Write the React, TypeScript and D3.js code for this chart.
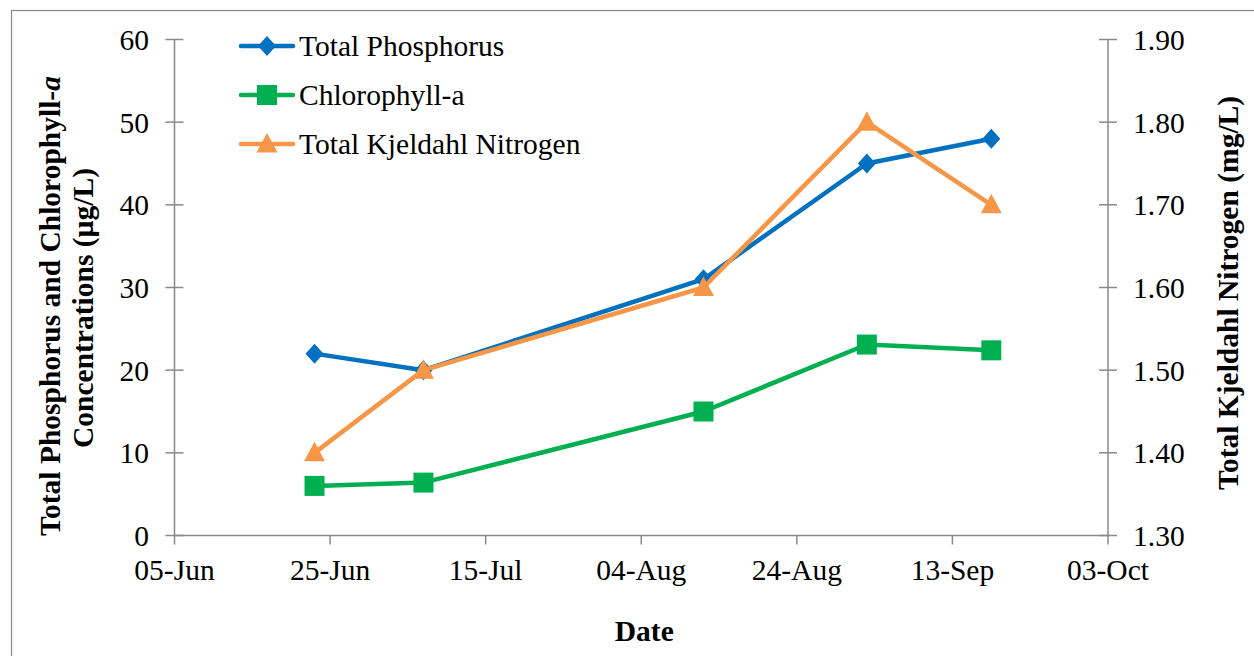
import React from "react";
import * as d3 from "d3";

const sampleDates = ["2013-06-23", "2013-07-07", "2013-08-12", "2013-09-02", "2013-09-18"];
const totalPhosphorus = [22, 20, 31, 45, 48];
const chlorophyllA = [6.0, 6.4, 15.0, 23.1, 22.4];
const totalKjeldahlNitrogen = [1.4, 1.5, 1.6, 1.8, 1.7];
const seriesNames = ["Total Phosphorus", "Chlorophyll-a", "Total Kjeldahl Nitrogen"];
const leftTicks = [0, 10, 20, 30, 40, 50, 60];
const rightTicks = [1.3, 1.4, 1.5, 1.6, 1.7, 1.8, 1.9];
const xStart = "2013-06-05";
const xEnd = "2013-10-03";

const W = 1254;
const H = 656;
const FONT = "'Liberation Serif', 'Times New Roman', serif";
const AXIS = "#898989";
const COLORS = ["#0070C0", "#00B050", "#F79646"];
const FS = 29.5;

const parse = (s: string) => new Date(s + "T00:00:00Z");

function Marker({ kind, x, y, color }: { kind: number; x: number; y: number; color: string }) {
  if (kind === 0) {
    return <path d={`M${x},${y - 10}L${x + 9},${y}L${x},${y + 10}L${x - 9},${y}Z`} fill={color} />;
  }
  if (kind === 1) {
    return <rect x={x - 10} y={y - 10} width={20} height={20} fill={color} />;
  }
  return <path d={`M${x},${y - 11}L${x + 10.5},${y + 8.5}L${x - 10.5},${y + 8.5}Z`} fill={color} />;
}

export default function App() {
  const x0 = 174.5;
  const x1 = 1108;
  const yTop = 39.5;
  const yBot = 535.5;

  const x = d3.scaleUtc().domain([parse(xStart), parse(xEnd)]).range([x0, x1]);
  const yL = d3.scaleLinear().domain([0, 60]).range([yBot, yTop]);
  const yR = d3.scaleLinear().domain([1.3, 1.9]).range([yBot, yTop]);

  const xTicks = d3.utcDay.range(parse(xStart), d3.utcDay.offset(parse(xEnd), 1), 20);
  const fmt = d3.utcFormat("%d-%b");

  const dates = sampleDates.map(parse);
  const series = [
    { vals: totalPhosphorus, y: yL },
    { vals: chlorophyllA, y: yL },
    { vals: totalKjeldahlNitrogen, y: yR },
  ];

  const line = (vals: number[], ys: d3.ScaleLinear<number, number>) =>
    d3
      .line<number>()
      .x((_, i) => x(dates[i]))
      .y((v) => ys(v))(vals) || "";

  const legendY = [46, 95, 144];

  return (
    <svg
      width={W}
      height={H}
      style={{ position: "absolute", left: 0, top: 0, display: "block", background: "#fff" }}
      fontFamily={FONT}
    >
      <rect x={11.5} y={10.5} width={W + 10} height={H + 10} fill="#fff" stroke={AXIS} strokeWidth={1.2} />

      {/* left axis */}
      <line x1={x0} x2={x0} y1={yTop} y2={yBot} stroke={AXIS} strokeWidth={1.5} />
      {leftTicks.map((t) => (
        <g key={"l" + t}>
          <line x1={x0 - 9} x2={x0 + 9} y1={yL(t)} y2={yL(t)} stroke={AXIS} strokeWidth={1.5} />
          <text x={149} y={yL(t) + 10.5} fontSize={FS} textAnchor="end" fill="#000">
            {t}
          </text>
        </g>
      ))}

      {/* right axis */}
      <line x1={x1} x2={x1} y1={yTop} y2={yBot} stroke={AXIS} strokeWidth={1.5} />
      {rightTicks.map((t) => (
        <g key={"r" + t}>
          <line x1={x1 - 9} x2={x1 + 9} y1={yR(t)} y2={yR(t)} stroke={AXIS} strokeWidth={1.5} />
          <text x={1133} y={yR(t) + 10.5} fontSize={FS} textAnchor="start" fill="#000">
            {t.toFixed(2)}
          </text>
        </g>
      ))}

      {/* x axis */}
      <line x1={x0} x2={x1} y1={yBot} y2={yBot} stroke={AXIS} strokeWidth={1.5} />
      {xTicks.map((t) => (
        <g key={"x" + t.getTime()}>
          <line x1={x(t)} x2={x(t)} y1={yBot} y2={yBot + 9} stroke={AXIS} strokeWidth={1.5} />
          <text x={x(t)} y={579.5} fontSize={FS} textAnchor="middle" fill="#000">
            {fmt(t)}
          </text>
        </g>
      ))}

      {/* axis titles */}
      <text x={(x0 + x1) / 2 + 3} y={641} fontSize={FS} fontWeight="bold" textAnchor="middle">
        Date
      </text>
      <text transform="translate(60,306) rotate(-90)" fontSize={FS} fontWeight="bold" textAnchor="middle">
        Total Phosphorus and Chlorophyll-<tspan fontStyle="italic">a</tspan>
      </text>
      <text transform="translate(93,308) rotate(-90)" fontSize={FS} fontWeight="bold" textAnchor="middle">
        Concentrations (µg/L)
      </text>
      <text transform="translate(1238,293) rotate(-90)" fontSize={FS} fontWeight="bold" textAnchor="middle">
        Total Kjeldahl Nitrogen (mg/L)
      </text>

      {/* series */}
      {series.map((s, si) => (
        <g key={"s" + si}>
          <path d={line(s.vals, s.y)} fill="none" stroke={COLORS[si]} strokeWidth={4.5} strokeLinejoin="round" strokeLinecap="round" />
          {s.vals.map((v, i) => (
            <Marker key={i} kind={si} x={x(dates[i])} y={s.y(v)} color={COLORS[si]} />
          ))}
        </g>
      ))}

      {/* legend */}
      {seriesNames.map((n, i) => (
        <g key={"lg" + i}>
          <line x1={241} x2={293} y1={legendY[i]} y2={legendY[i]} stroke={COLORS[i]} strokeWidth={4.5} strokeLinecap="round" />
          <Marker kind={i} x={267} y={legendY[i]} color={COLORS[i]} />
          <text x={299} y={legendY[i] + 9.5} fontSize={FS} fill="#000">
            {n}
          </text>
        </g>
      ))}
    </svg>
  );
}
